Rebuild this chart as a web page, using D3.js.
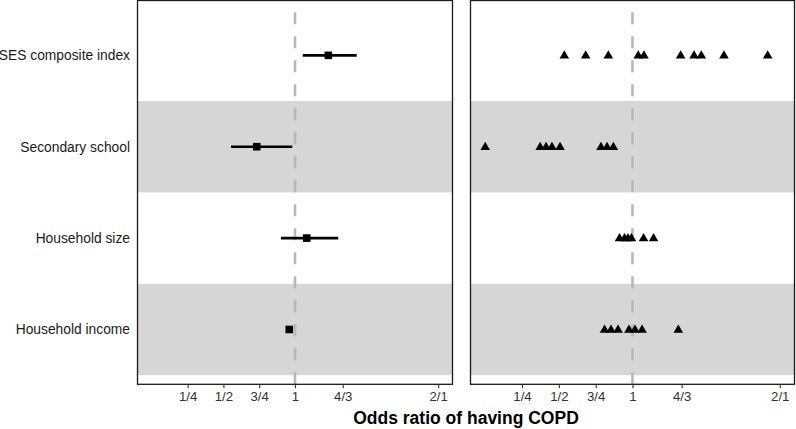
<!DOCTYPE html>
<html>
<head>
<meta charset="utf-8">
<script src="https://cdn.jsdelivr.net/npm/d3@7"></script>
<style>
  html, body { margin: 0; padding: 0; background: #fff; }
  svg { display: block; }
  text { font-family: "Liberation Sans", Arial, sans-serif; }
</style>
</head>
<body>
<svg id="chart" width="796" height="429"></svg>
<script>
// ---- data ----
const categories = ["SES composite index", "Secondary school", "Household size", "Household income"];
const orEstimate = [1.233, 0.733, 1.082, 0.960];
const ciLower    = [1.054, 0.553, 0.902, 0.937];
const ciUpper    = [1.431, 0.981, 1.302, 0.986];

const sesPoints       = [0.537, 0.682, 0.836, 1.039, 1.078, 1.327, 1.418, 1.467, 1.621, 1.918];
const secondaryPoints = [0.000, 0.373, 0.413, 0.453, 0.508, 0.786, 0.827, 0.870];
const sizePoints      = [0.912, 0.946, 0.969, 0.993, 1.075, 1.143];
const incomePoints    = [0.810, 0.854, 0.902, 0.976, 1.017, 1.065, 1.311];

const tickValues = [0.25, 0.5, 0.75, 1, 4/3, 2];
const tickLabels = ["1/4", "1/2", "3/4", "1", "4/3", "2/1"];
const xDomain = [-0.1, 2.1];
const xTitle = "Odds ratio of having COPD";

// ---- layout ----
const svg = d3.select("#chart");
const plotTop = 0.5, plotBottom = 384.3;
const panels = [
  { x0: 137.5, x1: 452.5 },
  { x0: 470.5, x1: 794.5 }
];

const y = d3.scalePoint().domain(categories).range([plotTop, plotBottom]).padding(0.6);
const step = y.step();

const rightSets = [sesPoints, secondaryPoints, sizePoints, incomePoints];

panels.forEach((p, pi) => {
  const x = d3.scaleLinear().domain(xDomain).range([p.x0, p.x1]);
  const g = svg.append("g");

  // background bands
  categories.forEach((c, i) => {
    if (i % 2 === 1) {
      g.append("rect")
        .attr("x", p.x0).attr("width", p.x1 - p.x0)
        .attr("y", y(c) - step / 2).attr("height", step)
        .attr("fill", "#d6d6d6");
    }
  });

  // reference dashed line at 1
  g.append("line")
    .attr("x1", x(1)).attr("x2", x(1))
    .attr("y1", plotBottom).attr("y2", plotTop)
    .attr("stroke", "#b8b8b8").attr("stroke-width", 2.6)
    .attr("stroke-dasharray", "12,12");

  if (pi === 0) {
    categories.forEach((c, i) => {
      g.append("line")
        .attr("x1", x(ciLower[i])).attr("x2", x(ciUpper[i]))
        .attr("y1", y(c)).attr("y2", y(c))
        .attr("stroke", "#000").attr("stroke-width", 2.6);
      g.append("rect")
        .attr("x", x(orEstimate[i]) - 3.8).attr("y", y(c) - 3.8)
        .attr("width", 7.6).attr("height", 7.6)
        .attr("fill", "#000");
    });
  } else {
    const tri = d3.symbol().type(d3.symbolTriangle).size(40);
    categories.forEach((c, i) => {
      g.selectAll(null).data(rightSets[i]).enter().append("path")
        .attr("d", tri)
        .attr("transform", d => `translate(${x(d)},${y(c) + 0.5})`)
        .attr("fill", "#000");
    });
  }

  // border
  g.append("rect")
    .attr("x", p.x0).attr("y", plotTop)
    .attr("width", p.x1 - p.x0).attr("height", plotBottom - plotTop)
    .attr("fill", "none").attr("stroke", "#1a1a1a").attr("stroke-width", 1.3);

  // x axis
  const axis = d3.axisBottom(x).tickValues(tickValues)
    .tickFormat((d, i) => tickLabels[i]).tickSizeOuter(0).tickSize(4).tickPadding(3);
  const ag = svg.append("g").attr("transform", `translate(0,${plotBottom})`).call(axis);
  ag.select(".domain").remove();
  ag.selectAll(".tick line").attr("stroke", "#333").attr("stroke-width", 1.1);
  ag.selectAll(".tick text").attr("fill", "#333").attr("font-size", 13.2)
    .attr("font-family", "Liberation Sans, Arial, sans-serif");
});

// y labels
svg.selectAll(".ylab").data(categories).enter().append("text")
  .attr("class", "ylab")
  .attr("x", 130).attr("y", d => y(d))
  .attr("dy", "0.35em")
  .attr("text-anchor", "end")
  .attr("font-size", 13.8)
  .attr("fill", "#1a1a1a")
  .text(d => d);

// x title
svg.append("text")
  .attr("x", (panels[0].x0 + panels[1].x1) / 2)
  .attr("y", 424)
  .attr("text-anchor", "middle")
  .attr("font-size", 17.5)
  .attr("font-weight", "bold")
  .attr("fill", "#000")
  .text(xTitle);
</script>
</body>
</html>
